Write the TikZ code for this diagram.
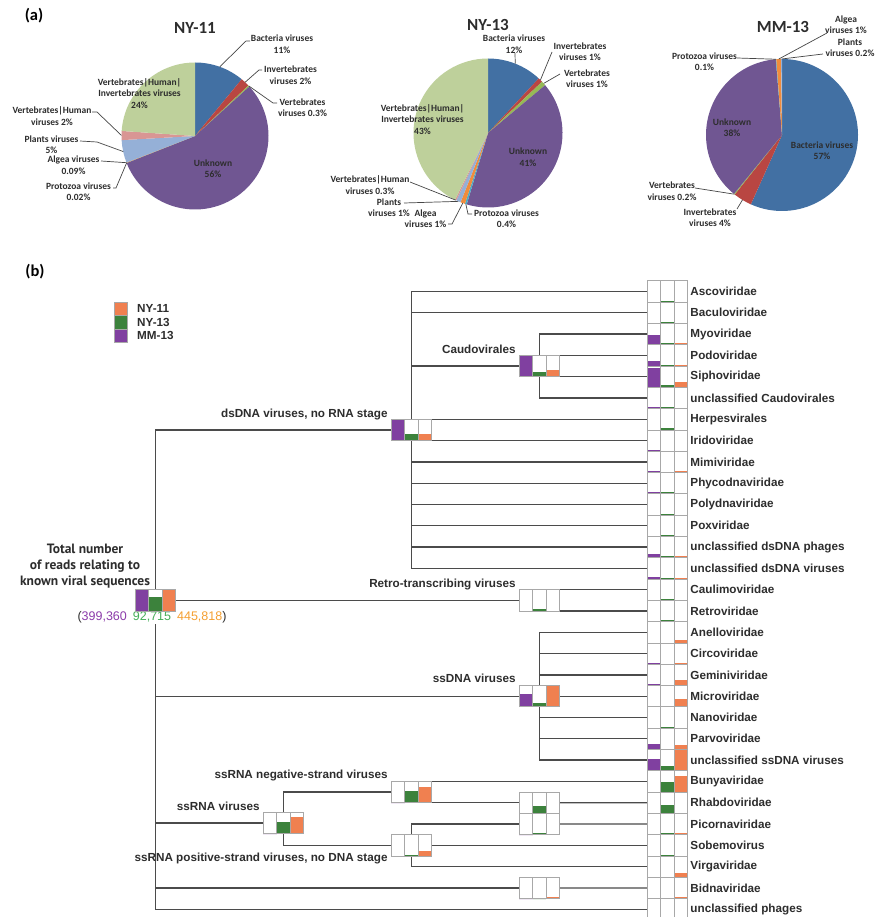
\documentclass[tikz,border=0pt]{standalone}
\usepackage{fontspec}
\setmainfont{Carlito}
\newfontfamily\arialf{Liberation Sans}
\newfontfamily\ptsans{PT Sans}
\usetikzlibrary{calc}
\definecolor{pBlue}{RGB}{66,112,163}
\definecolor{pRed}{RGB}{185,70,66}
\definecolor{pGreen}{RGB}{150,185,85}
\definecolor{pPurple}{RGB}{112,86,146}
\definecolor{pAqua}{RGB}{75,172,198}
\definecolor{pOrange}{RGB}{240,140,60}
\definecolor{pLBlue}{RGB}{149,176,215}
\definecolor{pPink}{RGB}{217,150,148}
\definecolor{pLGreen}{RGB}{190,208,155}
\definecolor{bP}{RGB}{128,64,160}
\definecolor{bG}{RGB}{60,130,60}
\definecolor{bO}{RGB}{240,128,80}
\definecolor{cellgray}{RGB}{168,168,168}
\definecolor{treeline}{RGB}{75,75,75}
\definecolor{leadgray}{RGB}{70,70,70}
\definecolor{txt}{RGB}{45,45,45}
\definecolor{nP}{RGB}{140,60,170}
\definecolor{nG}{RGB}{70,175,90}
\definecolor{nO}{RGB}{245,160,50}
\tikzset{
 tree/.style={draw=treeline, line width=1.3pt, line cap=rect},
 cell/.style={draw=cellgray, line width=0.9pt},
 leader/.style={draw=leadgray, line width=0.7pt},
 pielbl/.style={font=\bfseries\fontsize{9.5}{11.5}\selectfont, text=txt, align=center, inner sep=0pt},
 pietitle/.style={font=\bfseries\fontsize{17}{20}\selectfont, text=txt, inner sep=0pt},
 panel/.style={font=\bfseries\fontsize{16.5}{19}\selectfont, text=black, inner sep=0pt},
 leaf/.style={font=\arialf\bfseries\fontsize{11.7}{14}\selectfont, text=txt, inner sep=0pt, anchor=west},
 lbl/.style={font=\arialf\bfseries\fontsize{11.7}{14}\selectfont, text=txt, inner sep=0pt, anchor=base east},
 sq/.style={draw=cellgray, line width=0.5pt, minimum width=12.5pt, minimum height=13.5pt, inner sep=0pt},
}
\newcommand\pslice[5]{\fill[#5] (#1) -- ++(#2:#4pt) arc[start angle=#2, end angle=#3, radius=#4pt] -- cycle;}
\newcommand\tnode[3]{\coordinate (#1) at (#2,#3); \coordinate (#1-w) at ({#2-20.25},#3); \coordinate (#1-e) at ({#2+20.25},#3);}
\newcommand\drawbox[4]{%
\fill[white] ([shift={(-20.25,-10.65)}]#1) rectangle ([shift={(20.25,10.65)}]#1);
\fill[bP] ([shift={(-20.25,10.65)}]#1) rectangle ([shift={(-6.75,{10.65-21.3*#2})}]#1);
\fill[bG] ([shift={(-6.75,10.65)}]#1) rectangle ([shift={(6.75,{10.65-21.3*#3})}]#1);
\fill[bO] ([shift={(6.75,10.65)}]#1) rectangle ([shift={(20.25,{10.65-21.3*#4})}]#1);
\draw[cell] ([shift={(-20.25,-10.65)}]#1) rectangle ([shift={(20.25,10.65)}]#1);
\draw[cell] ([shift={(-6.75,-10.65)}]#1) -- ([shift={(-6.75,10.65)}]#1);
\draw[cell] ([shift={(6.75,-10.65)}]#1) -- ([shift={(6.75,10.65)}]#1);
}
\begin{document}
\begin{tikzpicture}[x=1pt,y=-1pt]
\useasboundingbox (0,0) rectangle (875,917);
\fill[white] (0,0) rectangle (875,917);

% ---------------- (a) pies ----------------
\node[panel] (pa) at (34,16) {(a)};
\node[pietitle] (t1) at (195,28) {NY-11};
\node[pietitle] (t2) at (488,25) {NY-13};
\node[pietitle] (t3) at (783,27) {MM-13};

\coordinate (c1) at (195,136);
\coordinate (c2) at (488,133);
\coordinate (c3) at (782,135);

% NY-11
\pslice{c1}{90}{50.56}{73.5}{pBlue}
\pslice{c1}{50.56}{43.39}{73.5}{pRed}
\pslice{c1}{43.39}{42.32}{73.5}{pGreen}
\pslice{c1}{42.32}{-158.46}{73.5}{pPurple}
\pslice{c1}{-158.46}{-158.53}{73.5}{pAqua}
\pslice{c1}{-158.53}{-158.85}{73.5}{pOrange}
\pslice{c1}{-158.85}{-176.78}{73.5}{pLBlue}
\pslice{c1}{-176.78}{-183.95}{73.5}{pPink}
\pslice{c1}{-183.95}{-270}{73.5}{pLGreen}
% NY-13
\pslice{c2}{90}{47.1}{74.5}{pBlue}
\pslice{c2}{47.1}{43.52}{74.5}{pRed}
\pslice{c2}{43.52}{39.95}{74.5}{pGreen}
\pslice{c2}{39.95}{-106.6}{74.5}{pPurple}
\pslice{c2}{-106.6}{-108.06}{74.5}{pAqua}
\pslice{c2}{-108.06}{-111.63}{74.5}{pOrange}
\pslice{c2}{-111.63}{-115.2}{74.5}{pLBlue}
\pslice{c2}{-115.2}{-116.28}{74.5}{pPink}
\pslice{c2}{-116.28}{-270}{74.5}{pLGreen}
% MM-13
\pslice{c3}{90}{-114.2}{76}{pBlue}
\pslice{c3}{-114.2}{-128.5}{76}{pRed}
\pslice{c3}{-128.5}{-129.2}{76}{pGreen}
\pslice{c3}{-129.2}{-265.3}{76}{pPurple}
\pslice{c3}{-265.3}{-265.7}{76}{pAqua}
\pslice{c3}{-265.7}{-269.3}{76}{pOrange}
\pslice{c3}{-269.3}{-270}{76}{pLBlue}

% edge points
\path (c1) ++(70.3:73.5pt) coordinate (e1a);
\path (c1) ++(47:73.5pt) coordinate (e1b);
\path (c1) ++(42.85:73.5pt) coordinate (e1c);
\path (c1) ++(-180.4:73.5pt) coordinate (e1f);
\path (c1) ++(-167.8:73.5pt) coordinate (e1g);
\path (c1) ++(-158.7:73.5pt) coordinate (e1h);
\path (c1) ++(-158.5:73.5pt) coordinate (e1i);
\path (c2) ++(68.55:74.5pt) coordinate (e2a);
\path (c2) ++(45.3:74.5pt) coordinate (e2b);
\path (c2) ++(41.7:74.5pt) coordinate (e2c);
\path (c2) ++(-115.7:74.5pt) coordinate (e2f);
\path (c2) ++(-113.4:74.5pt) coordinate (e2g);
\path (c2) ++(-109.8:74.5pt) coordinate (e2h);
\path (c2) ++(-107.3:74.5pt) coordinate (e2i);
\path (c3) ++(-267.5:76pt) coordinate (e3a);
\path (c3) ++(-269.65:76pt) coordinate (e3b);
\path (c3) ++(-265.5:76pt) coordinate (e3c);
\path (c3) ++(-128.85:76pt) coordinate (e3f);
\path (c3) ++(-121.35:76pt) coordinate (e3g);

% NY-11 labels
\node[pielbl] (l1a) at (282,44) {Bacteria viruses\\11\%};
\node[pielbl] (l1b) at (290.5,75) {Invertebrates\\viruses 2\%};
\node[pielbl] (l1c) at (302.5,107.5) {Vertebrates\\viruses 0.3\%};
\node[pielbl] (l1d) at (139.5,93.5) {Vertebrates|Human|\\Invertebrates viruses\\24\%};
\node[pielbl] (l1e) at (213,168.5) {Unknown\\56\%};
\node[pielbl] (l1f) at (52,116) {Vertebrates|Human\\viruses 2\%};
\node[pielbl] (l1g) at (51.5,144.5) {Plants viruses\\5\%};
\node[pielbl] (l1h) at (73.5,165) {Algea viruses\\0.09\%};
\node[pielbl] (l1i) at (78.5,191.5) {Protozoa viruses\\0.02\%};
\coordinate (k1a) at (246,41); \coordinate (k1a2) at (250,41);
\coordinate (k1b) at (259,70); \coordinate (k1b2) at (262,70);
\coordinate (k1c) at (273,103); \coordinate (k1c2) at (277,103);
\coordinate (k1f) at (97,112); \coordinate (k1f2) at (92,112);
\coordinate (k1g) at (97,142); \coordinate (k1g2) at (80,141);
\coordinate (k1h) at (101,161);
\coordinate (k1i) at (116,188); \coordinate (k1i2) at (113,188);
\draw[leader] (e1a) -- (k1a) -- (k1a2);
\draw[leader] (e1b) -- (k1b) -- (k1b2);
\draw[leader] (e1c) -- (k1c) -- (k1c2);
\draw[leader] (e1f) -- (k1f) -- (k1f2);
\draw[leader] (e1g) -- (k1g) -- (k1g2);
\draw[leader] (e1h) -- (k1h);
\draw[leader] (e1i) -- (k1i) -- (k1i2);

% NY-13 labels
\node[pielbl] (l2a) at (514,44) {Bacteria viruses\\12\%};
\node[pielbl] (l2b) at (580,51.5) {Invertebrates\\viruses 1\%};
\node[pielbl] (l2c) at (587,78.5) {Vertebrates\\viruses 1\%};
\node[pielbl] (l2d) at (422.5,119.5) {Vertebrates|Human|\\Invertebrates viruses\\43\%};
\node[pielbl] (l2e) at (528,157) {Unknown\\41\%};
\node[pielbl] (l2f) at (370,185) {Vertebrates|Human\\viruses 0.3\%};
\node[pielbl] (l2g) at (389,207.5) {Plants\\viruses 1\%};
\node[pielbl] (l2h) at (425.5,218.5) {Algea\\viruses 1\%};
\node[pielbl] (l2i) at (506.5,218.5) {Protozoa viruses\\0.4\%};
\coordinate (k2a) at (515,53);
\coordinate (k2b) at (552,52);
\coordinate (k2c) at (560,74);
\coordinate (k2f) at (410,182);
\coordinate (k2g) at (404,203);
\coordinate (k2h) at (452,224); \coordinate (k2h2) at (448,224);
\coordinate (k2i) at (468,214); \coordinate (k2i2) at (472,214);
\draw[leader] (e2a) -- (k2a);
\draw[leader] (e2b) -- (k2b);
\draw[leader] (e2c) -- (k2c);
\draw[leader] (e2f) -- (k2f);
\draw[leader] (e2g) -- (k2g);
\draw[leader] (e2h) -- (k2h) -- (k2h2);
\draw[leader] (e2i) -- (k2i) -- (k2i2);

% MM-13 labels
\node[pielbl] (l3a) at (846,24.5) {Algea\\viruses 1\%};
\node[pielbl] (l3b) at (850,47.5) {Plants\\viruses 0.2\%};
\node[pielbl] (l3c) at (704.5,61.5) {Protozoa viruses\\0.1\%};
\node[pielbl] (l3d) at (732,127.5) {Unknown\\38\%};
\node[pielbl] (l3e) at (822,150.5) {Bacteria viruses\\57\%};
\node[pielbl] (l3f) at (672,191) {Vertebrates\\viruses 0.2\%};
\node[pielbl] (l3g) at (710,217.5) {Invertebrates\\viruses 4\%};
\coordinate (k3a) at (827,33);
\coordinate (k3b) at (823,54);
\coordinate (k3c) at (737,58);
\coordinate (k3f) at (695,188);
\coordinate (k3g) at (737,209);
\draw[leader] (e3a) -- (k3a);
\draw[leader] (e3b) -- (k3b);
\draw[leader] (e3c) -- (k3c);
\draw[leader] (e3f) -- (k3f);
\draw[leader] (e3g) -- (k3g);

% ---------------- (b) tree ----------------
\node[panel] (pb) at (35,272) {(b)};
\node[sq, fill=bO] (lgO) at (120.75,308.75) {};
\node[sq, fill=bG] (lgG) at (120.75,322.25) {};
\node[sq, fill=bP] (lgP) at (120.75,335.75) {};
\node[leaf] (lgOt) at (137,308.75) {NY-11};
\node[leaf] (lgGt) at (137,322.25) {NY-13};
\node[leaf] (lgPt) at (137,335.75) {MM-13};

\tnode{root}{155.5}{600.35}
\tnode{dsDNA}{411.5}{429.95}
\tnode{caudo}{539.5}{366.05}
\tnode{retro}{539.5}{600.35}
\tnode{ssDNA}{539.5}{696.2}
\tnode{ssRNA}{283.5}{823}
\tnode{neg}{411.5}{792.05}
\tnode{pos}{411.5}{845.3}
\tnode{mono}{539.5}{802.7}
\tnode{picorna}{539.5}{824}
\tnode{bidna}{539.5}{887.9}
\foreach \i in {0,...,29} { \tnode{L\i}{667.5}{291.5+21.3*\i} }

% connectors
\draw[tree] (root |- dsDNA) -- (root |- L29);
\draw[tree] (root |- dsDNA) -- (dsDNA-w);
\draw[tree] (root-e) -- (retro-w);
\draw[tree] (root |- ssDNA) -- (ssDNA-w);
\draw[tree] (root |- ssRNA) -- (ssRNA-w);
\draw[tree] (root |- bidna) -- (bidna-w);
\draw[tree] (root |- L29) -- (L29-w);
\draw[tree] (dsDNA |- L0) -- (dsDNA |- L13);
\foreach \i in {0,1,6,7,8,9,10,11,12,13} { \draw[tree] (dsDNA |- L\i) -- (L\i-w); }
\draw[tree] (dsDNA |- caudo) -- (caudo-w);
\draw[tree] (caudo |- L2) -- (caudo |- L5);
\foreach \i in {2,3,4,5} { \draw[tree] (caudo |- L\i) -- (L\i-w); }
\draw[tree] (retro |- L14) -- (retro |- L15);
\foreach \i in {14,15} { \draw[tree] (retro |- L\i) -- (L\i-w); }
\draw[tree] (ssDNA |- L16) -- (ssDNA |- L22);
\foreach \i in {16,...,22} { \draw[tree] (ssDNA |- L\i) -- (L\i-w); }
\draw[tree] (ssRNA |- neg) -- (ssRNA |- pos);
\draw[tree] (ssRNA |- neg) -- (neg-w);
\draw[tree] (ssRNA |- pos) -- (pos-w);
\draw[tree] (neg |- L23) -- (neg |- mono);
\draw[tree] (neg |- L23) -- (L23-w);
\draw[tree] (neg |- mono) -- (mono-w);
\draw[tree] (mono-e) -- (L24-w);
\draw[tree] (pos |- picorna) -- (pos |- L27);
\draw[tree] (pos |- picorna) -- (picorna-w);
\draw[tree] (pos |- L26) -- (L26-w);
\draw[tree] (pos |- L27) -- (L27-w);
\draw[tree] (picorna-e) -- (L25-w);
\draw[tree] (bidna-e) -- (L28-w);

% root texts
\node[font=\ptsans\bfseries\fontsize{13.5}{16}\selectfont, text=txt, align=center, inner sep=0pt] (tRoot) at (85,566) {Total number\\of reads relating to\\known viral sequences};
\node[font=\arialf\fontsize{12.5}{14}\selectfont, text=txt, fill=white, inner sep=1pt] (cnt) at (152,617.5) {(\textcolor{nP}{399,360}\hspace{6pt}\textcolor{nG}{92,715}\hspace{6pt}\textcolor{nO}{445,818})};

% internal boxes
\drawbox{root}{1}{.68}{1}
\drawbox{dsDNA}{1}{.3}{.32}
\drawbox{caudo}{1}{.24}{.3}
\drawbox{retro}{0}{.08}{0}
\drawbox{ssDNA}{.62}{.2}{1}
\drawbox{ssRNA}{0}{.54}{.77}
\drawbox{neg}{0}{.54}{.72}
\drawbox{pos}{0}{.06}{.23}
\drawbox{mono}{0}{.34}{0}
\drawbox{picorna}{0}{.06}{.05}
\drawbox{bidna}{0}{0}{.06}

% internal labels
\node[lbl] (tDS) at ([shift={(-3.5,-12.8)}]dsDNA-w) {dsDNA viruses, no RNA stage};
\node[lbl] (tCa) at ([shift={(-3.5,-12.8)}]caudo-w) {Caudovirales};
\node[lbl] (tRe) at ([shift={(-3.5,-13)}]retro-w) {Retro-transcribing viruses};
\node[lbl] (tSD) at ([shift={(-3.5,-13.5)}]ssDNA-w) {ssDNA viruses};
\node[lbl] (tNe) at ([shift={(-3.5,-13.5)}]neg-w) {ssRNA negative-strand viruses};
\node[lbl] (tSR) at ([shift={(-3.5,-12.8)}]ssRNA-w) {ssRNA viruses};
\node[lbl] (tPo) at ([shift={(-3.5,16)}]pos-w) {ssRNA positive-strand viruses, no DNA stage};

% leaves
\foreach \i/\nm/\vp/\vg/\vo in {
0/Ascoviridae/0/.07/0,
1/Baculoviridae/0/.07/0,
2/Myoviridae/.45/.08/.07,
3/Podoviridae/.23/.06/.06,
4/Siphoviridae/.9/.12/.25,
5/unclassified Caudovirales/.08/.06/.05,
6/Herpesvirales/0/.07/0,
7/Iridoviridae/.07/0/0,
8/Mimiviridae/.07/0/.05,
9/Phycodnaviridae/.09/.07/.05,
10/Polydnaviridae/0/.07/0,
11/Poxviridae/0/.06/0,
12/unclassified dsDNA phages/.16/.06/.07,
13/unclassified dsDNA viruses/.09/.06/.05,
14/Caulimoviridae/0/.07/0,
15/Retroviridae/0/.06/0,
16/Anelloviridae/0/0/.15,
17/Circoviridae/.06/0/.06,
18/Geminiviridae/.06/0/.25,
19/Microviridae/.06/0/.35,
20/Nanoviridae/0/.06/0,
21/Parvoviridae/.25/0/.2,
22/unclassified ssDNA viruses/.55/.2/1,
23/Bunyaviridae/0/.45/.75,
24/Rhabdoviridae/0/.37/0,
25/Picornaviridae/0/.06/.06,
26/Sobemovirus/0/.06/0,
27/Virgaviridae/0/0/.2,
28/Bidnaviridae/0/0/.07,
29/unclassified phages/0/0/0}
{
 \drawbox{L\i}{\vp}{\vg}{\vo}
 \node[leaf] (T\i) at ([xshift=2.5]L\i-e) {\nm};
}
\end{tikzpicture}
\end{document}
